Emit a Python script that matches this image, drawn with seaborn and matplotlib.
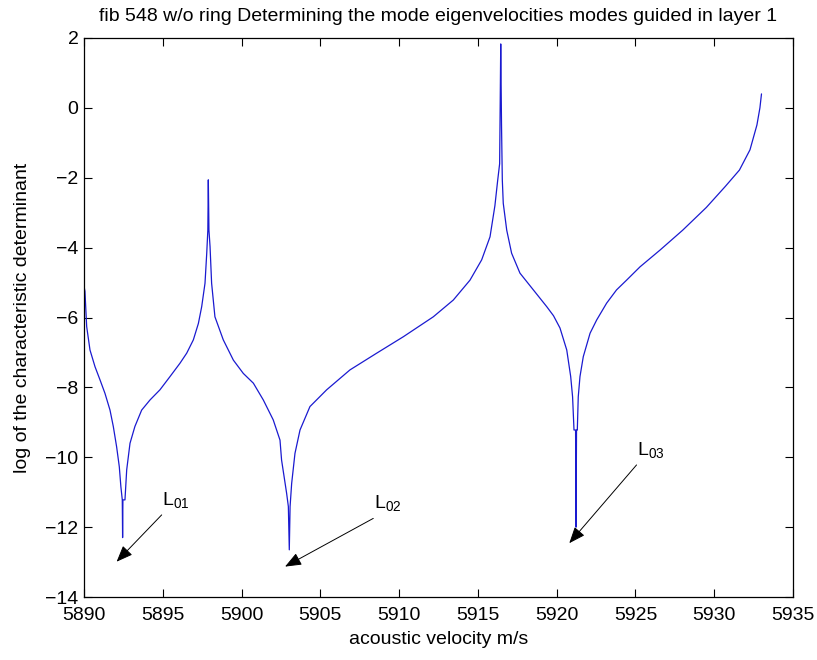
import matplotlib
matplotlib.use("Agg")
import matplotlib.pyplot as plt
import seaborn as sns
import pandas as pd

# ---- data ----
velocity = [
    5890.0, 5890.06, 5890.17, 5890.38, 5890.70, 5891.02, 5891.33, 5891.65,
    5891.86, 5892.07, 5892.24, 5892.34, 5892.43, 5892.45, 5892.47, 5892.60,
    5892.71, 5892.92, 5893.23, 5893.66, 5894.19, 5894.82, 5895.46, 5896.09,
    5896.52, 5896.94, 5897.26, 5897.47, 5897.68, 5897.79, 5897.86, 5897.89,
    5897.93, 5898.00, 5898.10, 5898.31, 5898.84, 5899.48, 5900.11, 5900.75,
    5901.38, 5902.01, 5902.44, 5902.54, 5902.86, 5902.97, 5903.03, 5903.08,
    5903.18, 5903.39, 5903.71, 5904.34, 5905.40, 5906.88, 5908.58, 5910.27,
    5912.17, 5913.44, 5914.50, 5915.24, 5915.77, 5916.08, 5916.25, 5916.38,
    5916.42, 5916.45, 5916.50, 5916.55, 5916.61, 5916.83, 5917.14, 5917.67,
    5918.52, 5919.37, 5919.80, 5920.21, 5920.64, 5920.89, 5921.01, 5921.10,
    5921.20, 5921.23, 5921.26, 5921.31, 5921.37, 5921.48, 5921.69, 5922.12,
    5922.54, 5923.17, 5923.80, 5924.44, 5925.29, 5926.56, 5928.0, 5929.5,
    5930.7, 5931.6, 5932.27, 5932.71, 5932.90, 5933.0,
]
log_det = [
    -5.1, -5.25, -6.26, -6.93, -7.41, -7.79, -8.17, -8.65,
    -9.12, -9.70, -10.27, -10.84, -11.22, -12.30, -11.22, -11.22,
    -10.36, -9.60, -9.12, -8.65, -8.36, -8.07, -7.69, -7.31,
    -7.02, -6.64, -6.17, -5.69, -5.02, -4.16, -3.5, -2.06,
    -3.5, -3.97, -5.02, -5.98, -6.64, -7.22, -7.60, -7.88,
    -8.36, -8.93, -9.51, -10.08, -11.03, -11.41, -12.65, -11.41,
    -10.75, -9.89, -9.22, -8.55, -8.07, -7.50, -7.02, -6.55,
    -5.98, -5.50, -4.93, -4.35, -3.69, -2.80, -2.10, -1.60,
    0.32, 1.83, -0.5, -2.06, -2.73, -3.50, -4.16, -4.73,
    -5.21, -5.69, -5.95, -6.30, -6.93, -7.69, -8.27, -9.22,
    -9.22, -12.0, -9.22, -9.22, -8.27, -7.69, -7.12, -6.45,
    -6.07, -5.59, -5.21, -4.93, -4.55, -4.07, -3.50, -2.85,
    -2.25, -1.78, -1.20, -0.49, 0.0, 0.4,
]

mode_labels = ["01", "02", "03"]
arrow_heads_x = [5892.07, 5902.76, 5920.8]
arrow_heads_y = [-12.99, -13.13, -12.46]
arrow_tails_x = [5894.93, 5908.36, 5925.07]
arrow_tails_y = [-11.65, -11.75, -10.22]

x_ticks = [5890, 5895, 5900, 5905, 5910, 5915, 5920, 5925, 5930, 5935]
y_ticks = [-14, -12, -10, -8, -6, -4, -2, 0, 2]

title = "fib 548 w/o ring Determining the mode eigenvelocities modes guided in layer 1"
x_label = "acoustic velocity m/s"
y_label = "log of the characteristic determinant"

# ---- styling ----
sns.set_style("ticks")
plt.rcParams["font.family"] = ["Liberation Sans Narrow", "Liberation Sans", "DejaVu Sans"]
plt.rcParams["mathtext.fontset"] = "custom"
plt.rcParams["mathtext.rm"] = "Liberation Sans"
plt.rcParams["mathtext.it"] = "Liberation Sans"
plt.rcParams["mathtext.default"] = "rm"
plt.rcParams["text.color"] = "black"
plt.rcParams["axes.labelcolor"] = "black"
plt.rcParams["xtick.color"] = "black"
plt.rcParams["ytick.color"] = "black"

fig = plt.figure(figsize=(8.17, 6.60), dpi=100)
ax = fig.add_axes([84 / 817, 1 - 597 / 660, (793 - 84) / 817, (597 - 38) / 660])

df = pd.DataFrame({"velocity": velocity, "log_det": log_det})
sns.lineplot(data=df, x="velocity", y="log_det", sort=False, estimator=None,
             color="#1a1ad0", linewidth=0.9, ax=ax)

for lab, hx, hy, tx, ty in zip(mode_labels, arrow_heads_x, arrow_heads_y,
                               arrow_tails_x, arrow_tails_y):
    ax.annotate("", xy=(hx, hy), xytext=(tx, ty),
                arrowprops=dict(arrowstyle="-|>,head_length=1.0,head_width=0.4",
                                color="black", lw=0.7, shrinkA=0, shrinkB=0))
    ax.text(tx + 0.05, ty + 0.15, "L$_{" + lab + "}$", fontsize=14,
            ha="left", va="bottom", color="black")

ax.set_xlim(5890, 5935)
ax.set_ylim(-14, 2)
ax.set_xticks(x_ticks)
ax.set_yticks(y_ticks)
ax.tick_params(direction="in", top=True, right=True, length=6, width=0.8,
               labelsize=14, colors="black")
ax.tick_params(axis="x", pad=7)
ax.tick_params(axis="y", pad=4)
for s in ax.spines.values():
    s.set_visible(True)
    s.set_color("black")
    s.set_linewidth(0.9)

ax.set_title(title, fontsize=14, pad=12, color="black")
ax.set_xlabel(x_label, fontsize=14, labelpad=5, color="black")
ax.set_ylabel(y_label, fontsize=14, labelpad=10, color="black")

fig.savefig("out.png", dpi=100)
